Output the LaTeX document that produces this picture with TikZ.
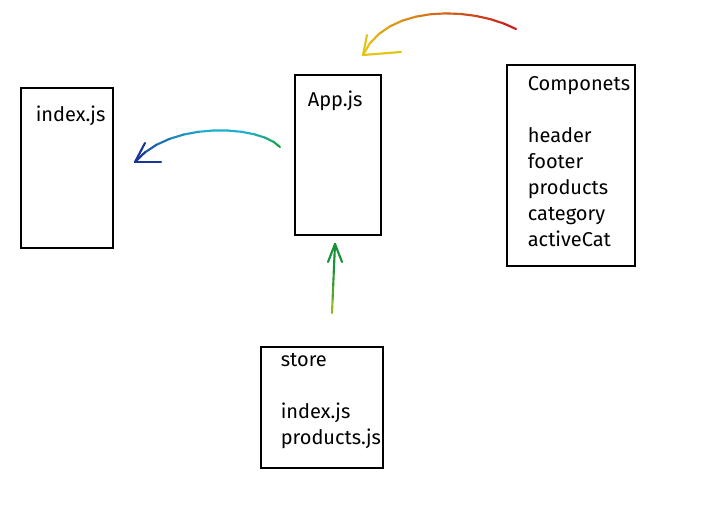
\documentclass[tikz,border=0pt]{standalone}
\usepackage{fontspec}
\setmainfont{Fira Sans}
\usetikzlibrary{calc}

\definecolor{topA}{RGB}{200,30,30}
\definecolor{topB}{RGB}{228,196,20}
\definecolor{bluA}{RGB}{30,160,80}
\definecolor{bluB}{RGB}{30,175,205}
\definecolor{bluC}{RGB}{25,55,150}
\definecolor{grnA}{RGB}{175,195,30}
\definecolor{grnB}{RGB}{25,145,55}

\tikzset{
	file/.style={draw,line width=2.2pt,inner sep=0pt},
	lbl/.style={anchor=north west,inner sep=0pt,align=left,font=\fontsize{15}{19.5}\selectfont},
	pen/.style={line width=1.6pt,line cap=round,line join=round}
}

\begin{document}
\begin{tikzpicture}[x=0.75pt,y=-0.75pt]
	\useasboundingbox (0,0) rectangle (705,506);
	% the four boxes
	\node[file,minimum width=92*0.75pt,minimum height=160*0.75pt] (idx) at (67,168) {};
	\node[file,minimum width=86*0.75pt,minimum height=160*0.75pt] (app) at (338,155) {};
	\node[file,minimum width=128*0.75pt,minimum height=201*0.75pt] (comp) at (571,165.5) {};
	\node[file,minimum width=122*0.75pt,minimum height=121*0.75pt] (store) at (322,407.5) {};

	% texts
	\node[lbl] (idxtxt) at ([shift={(16,19)}]idx.north west) {index.js};
	\node[lbl] (apptxt) at ([shift={(14,17)}]app.north west) {App.js};
	\node[lbl] (comptxt) at ([shift={(22,13)}]comp.north west)
		{Componets\\[19.5pt]header\\footer\\products\\category\\activeCat};
	\node[lbl] (storetxt) at ([shift={(21,8)}]store.north west)
		{store\\[19.5pt]index.js\\products.js};

	% arrow ends
	\coordinate (ts) at (516,29);
	\coordinate (te) at (363,55);
	\coordinate (bs) at (280,147);
	\coordinate (be) at (135,162);
	\coordinate (gs) at (332,313);
	\coordinate (ge) at (335,244);

	% Componets -> App.js
	\foreach \i in {0,...,12}
		\path (ts) .. controls (470,5) and (385,5) .. (te) coordinate[pos=\i/12] (t\i);
	\foreach \i [evaluate=\i as \j using int(\i+1), evaluate=\i as \p using int(\i*100/11)] in {0,...,11}
		\draw[pen,draw=topB!\p!topA] (t\i) -- (t\j);
	\draw[pen,topB] (te) -- ++(4,-20);
	\draw[pen,topB] (te) -- ++(38,-3);

	% App.js -> index.js
	\foreach \i in {0,...,12}
		\path (bs) .. controls (260,125) and (170,120) .. (be) coordinate[pos=\i/12] (b\i);
	\foreach \i/\c in {0/bluA,1/bluB!30!bluA,2/bluB!60!bluA,3/bluB,4/bluB,5/bluB,6/bluB,7/bluC!15!bluB,8/bluC!30!bluB,9/bluC!50!bluB,10/bluC!70!bluB,11/bluC}
		\draw[pen,draw=\c] (b\i) -- (b\the\numexpr\i+1\relax);
	\draw[pen,bluC] (be) -- ++(10,-19);
	\draw[pen,bluC] (be) -- ++(26,0);

	% store -> App.js
	\path (gs) -- (ge) coordinate[pos=.2] (g1) coordinate[pos=.4] (g2)
		coordinate[pos=.6] (g3) coordinate[pos=.8] (g4);
	\foreach \a/\b/\p in {gs/g1/20,g1/g2/60,g2/g3/85,g3/g4/100,g4/ge/100}
		\draw[pen,draw=grnB!\p!grnA] (\a) -- (\b);
	\draw[pen,grnB] (ge) -- ++(-7,18);
	\draw[pen,grnB] (ge) -- ++(7,18);
\end{tikzpicture}
\end{document}
